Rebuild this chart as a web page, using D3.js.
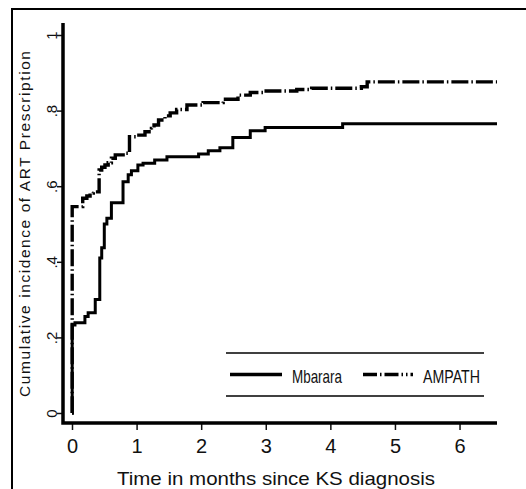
<!DOCTYPE html>
<html>
<head>
<meta charset="utf-8">
<script src="https://cdn.jsdelivr.net/npm/d3@7"></script>
<style>
  html, body { margin: 0; padding: 0; background: #fff; }
  svg { display: block; }
</style>
</head>
<body>
<svg id="chart" width="526" height="489"></svg>
<script>
// ---- data ----
const seriesNames = ["Mbarara", "AMPATH"];
const mbararaTime = [0, 0.003, 0.046, 0.20, 0.25, 0.36, 0.43, 0.46, 0.50, 0.54, 0.61, 0.79, 0.87, 0.92, 1.02, 1.10, 1.28, 1.47, 1.96, 2.11, 2.29, 2.49, 2.76, 2.99, 4.19, 6.58];
const mbararaValue = [0, 0.233, 0.239, 0.255, 0.265, 0.300, 0.410, 0.437, 0.500, 0.515, 0.556, 0.612, 0.630, 0.641, 0.656, 0.661, 0.669, 0.678, 0.685, 0.694, 0.702, 0.729, 0.747, 0.755, 0.765, 0.765];
const ampathTime = [0, 0.003, 0.166, 0.23, 0.28, 0.33, 0.42, 0.46, 0.51, 0.56, 0.61, 0.67, 0.82, 0.89, 1.00, 1.13, 1.23, 1.27, 1.34, 1.44, 1.52, 1.62, 1.78, 2.03, 2.34, 2.57, 2.76, 2.96, 3.48, 3.71, 4.48, 4.57, 6.58];
const ampathValue = [0, 0.546, 0.568, 0.574, 0.582, 0.585, 0.643, 0.650, 0.656, 0.662, 0.674, 0.683, 0.687, 0.731, 0.735, 0.744, 0.753, 0.762, 0.775, 0.786, 0.794, 0.803, 0.815, 0.821, 0.830, 0.841, 0.848, 0.852, 0.856, 0.859, 0.863, 0.876, 0.876];
const xTicks = [0, 1, 2, 3, 4, 5, 6];
const yTicks = [0, 0.2, 0.4, 0.6, 0.8, 1];
const yTickLabels = ["0", ".2", ".4", ".6", ".8", "1"];
const xTitle = "Time in months since KS diagnosis";
const yTitle = "Cumulative incidence of ART Prescription";

// ---- layout ----
const svg = d3.select("#chart");
const x = d3.scaleLinear().domain([0, 6.58]).range([72, 497]);
const y = d3.scaleLinear().domain([0, 1]).range([413, 35]);
const narrow = "'Liberation Sans Narrow','Arial Narrow','Liberation Sans',Arial,sans-serif";
const sans = "'Liberation Sans',Arial,Helvetica,sans-serif";
const ink = "#111";

// outer frame
svg.append("path").attr("d", "M12,492 L12,9 L530,9")
  .attr("fill", "none").attr("stroke", "#000").attr("stroke-width", 2);

// axes
const xAxisY = 423, yAxisX = 63;
const xAxis = d3.axisBottom(x).tickValues(xTicks).tickFormat(d3.format("d")).tickSize(7).tickSizeOuter(0);
const gx = svg.append("g").attr("transform", `translate(0,${xAxisY})`).call(xAxis);
gx.select(".domain").remove();
gx.selectAll(".tick line").attr("stroke", ink).attr("stroke-width", 1.5);
gx.selectAll(".tick text").attr("fill", ink).attr("font-family", narrow).attr("font-size", 20)
  .attr("dy", null).attr("y", 30);

const yAxis = d3.axisLeft(y).tickValues(yTicks).tickFormat((d, i) => yTickLabels[i]).tickSize(6).tickSizeOuter(0);
const gy = svg.append("g").attr("transform", `translate(${yAxisX},0)`).call(yAxis);
gy.select(".domain").remove();
gy.selectAll(".tick line").attr("stroke", ink).attr("stroke-width", 1.5);
gy.selectAll(".tick text").attr("fill", ink).attr("font-family", narrow).attr("font-size", 15)
  .attr("text-anchor", "middle").attr("dy", null).attr("x", null)
  .attr("transform", "translate(-6,0) rotate(-90)");

// axis lines (thick)
svg.append("path").attr("d", `M${yAxisX},23 L${yAxisX},${xAxisY} L${x(6.58)},${xAxisY}`)
  .attr("fill", "none").attr("stroke", "#000").attr("stroke-width", 3.5);

// titles
svg.append("text").attr("x", 276).attr("y", 485).attr("text-anchor", "middle")
  .attr("font-family", sans).attr("font-size", 19).attr("fill", ink)
  .attr("textLength", 318).attr("lengthAdjust", "spacingAndGlyphs").text(xTitle);
svg.append("text").attr("transform", "translate(30,224) rotate(-90)").attr("text-anchor", "middle")
  .attr("font-family", sans).attr("font-size", 15.5).attr("fill", ink)
  .attr("textLength", 346).attr("lengthAdjust", "spacing").text(yTitle);

// curves
const line = d3.line().x(d => x(d[0])).y(d => y(d[1])).curve(d3.curveStepAfter);
const mData = mbararaTime.map((t, i) => [t, mbararaValue[i]]);
const aData = ampathTime.map((t, i) => [t, ampathValue[i]]);
const dashPattern = "17,3,1.5,3";

svg.append("path").datum(mData).attr("d", line)
  .attr("fill", "none").attr("stroke", "#000").attr("stroke-width", 3);
svg.append("path").datum(aData).attr("d", line)
  .attr("fill", "none").attr("stroke", "#000").attr("stroke-width", 3.4)
  .attr("stroke-dasharray", dashPattern);

// legend
const lg = svg.append("g");
lg.append("line").attr("x1", 226).attr("x2", 484).attr("y1", 353).attr("y2", 353)
  .attr("stroke", "#000").attr("stroke-width", 1.5);
lg.append("line").attr("x1", 226).attr("x2", 484).attr("y1", 396).attr("y2", 396)
  .attr("stroke", "#000").attr("stroke-width", 1.5);
const legendItems = [
  { name: seriesNames[0], x0: 230, x1: 282, tx: 292, tw: 50, dash: null },
  { name: seriesNames[1], x0: 363, x1: 413, tx: 423, tw: 57, dash: "14,3,1.5,3,14,3,1.5,3,1.5,3" }
];
legendItems.forEach(it => {
  const l = lg.append("line").attr("x1", it.x0).attr("x2", it.x1).attr("y1", 374.5).attr("y2", 374.5)
    .attr("stroke", "#000").attr("stroke-width", 3.5);
  if (it.dash) l.attr("stroke-dasharray", it.dash);
  lg.append("text").attr("x", it.tx).attr("y", 383).attr("font-family", narrow).attr("font-size", 19)
    .attr("fill", ink).attr("textLength", it.tw).attr("lengthAdjust", "spacingAndGlyphs").text(it.name);
});
</script>
</body>
</html>
